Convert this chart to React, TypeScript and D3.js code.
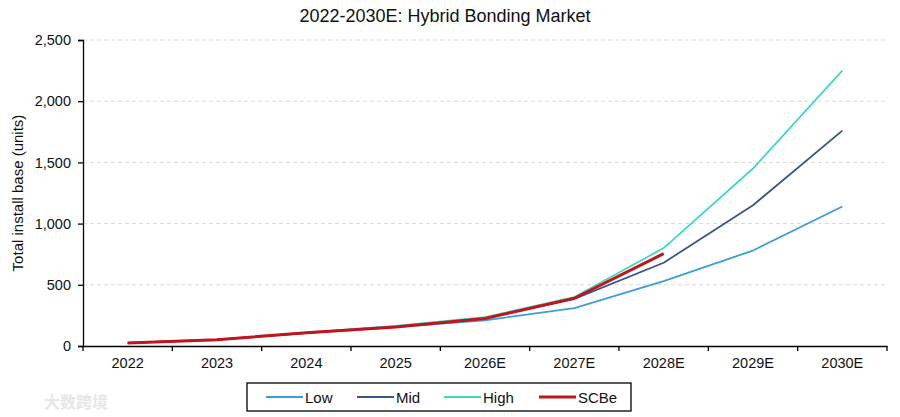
import React, { useEffect, useRef } from "react";
import { axisBottom, axisLeft, format, line, scaleBand, scaleLinear, select } from "d3";

const years = ["2022", "2023", "2024", "2025", "2026E", "2027E", "2028E", "2029E", "2030E"];
const low = [25, 50, 105, 155, 210, 310, 530, 780, 1140];
const mid = [25, 52, 108, 160, 225, 385, 680, 1150, 1760];
const high = [25, 52, 110, 165, 235, 400, 800, 1450, 2250];
const scbe = [25, 52, 108, 155, 225, 390, 755];
const yTicks = [0, 500, 1000, 1500, 2000, 2500];

const series = [
  { name: "Low", values: low, color: "#3a9fd6", width: 1.8 },
  { name: "Mid", values: mid, color: "#3a5685", width: 1.8 },
  { name: "High", values: high, color: "#3fd8c2", width: 1.8 },
  { name: "SCBe", values: scbe, color: "#c0151c", width: 3 },
];

const W = 900;
const H = 417;
const margin = { top: 40, right: 13, bottom: 71, left: 83 };

export default function App() {
  const svgRef = useRef<SVGSVGElement>(null);

  useEffect(() => {
    const svg = select(svgRef.current);
    svg.selectAll("*").remove();
    const font = "'Liberation Sans', Arial, sans-serif";

    const x = scaleBand().domain(years).range([margin.left, W - margin.right]);
    const y = scaleLinear().domain([0, 2500]).range([H - margin.bottom, margin.top]);

    // gridlines
    svg
      .append("g")
      .selectAll("line")
      .data(yTicks.slice(1))
      .enter()
      .append("line")
      .attr("x1", margin.left)
      .attr("x2", W - margin.right)
      .attr("y1", (d) => y(d))
      .attr("y2", (d) => y(d))
      .attr("stroke", "#d9d9d9")
      .attr("stroke-dasharray", "4,3")
      .attr("stroke-width", 1);

    const gx = svg
      .append("g")
      .attr("transform", `translate(0,${H - margin.bottom})`)
      .call(axisBottom(x).tickSize(0).tickPadding(12));
    gx.select(".domain").attr("stroke", "#000").attr("stroke-width", 1.3);
    gx.selectAll("text").attr("font-family", font).attr("font-size", 14.5).attr("fill", "#111");
    // tick marks between categories
    gx.selectAll("line.sep")
      .data(years.map((d) => x(d)!).concat([W - margin.right]))
      .enter()
      .append("line")
      .attr("class", "sep")
      .attr("x1", (d) => d)
      .attr("x2", (d) => d)
      .attr("y1", 0)
      .attr("y2", 5)
      .attr("stroke", "#000")
      .attr("stroke-width", 1.3);

    const gy = svg
      .append("g")
      .attr("transform", `translate(${margin.left},0)`)
      .call(axisLeft(y).tickValues(yTicks).tickSize(5).tickPadding(7).tickFormat(format(",")));
    gy.select(".domain").attr("stroke", "#000").attr("stroke-width", 1.3);
    gy.selectAll(".tick line").attr("stroke", "#000").attr("stroke-width", 1.3);
    gy.selectAll("text").attr("font-family", font).attr("font-size", 14.5).attr("fill", "#111");

    const cx = (i: number) => x(years[i])! + x.bandwidth() / 2;
    const gen = line<number>()
      .x((_, i) => cx(i))
      .y((d) => y(d));

    series.forEach((s) => {
      svg
        .append("path")
        .attr("d", gen(s.values))
        .attr("fill", "none")
        .attr("stroke", s.color)
        .attr("stroke-width", s.width)
        .attr("stroke-linejoin", "round");
    });

    // title
    svg
      .append("text")
      .attr("x", 445)
      .attr("y", 22)
      .attr("text-anchor", "middle")
      .attr("font-family", font)
      .attr("font-size", 18)
      .attr("fill", "#111")
      .text("2022-2030E: Hybrid Bonding Market");

    // y label
    svg
      .append("text")
      .attr("transform", `translate(23,${(margin.top + H - margin.bottom) / 2}) rotate(-90)`)
      .attr("text-anchor", "middle")
      .attr("font-family", font)
      .attr("font-size", 15)
      .attr("fill", "#111")
      .text("Total install base (units)");

    // legend
    const lg = svg.append("g");
    lg.append("rect")
      .attr("x", 247)
      .attr("y", 383)
      .attr("width", 384)
      .attr("height", 28)
      .attr("fill", "#fff")
      .attr("stroke", "#000")
      .attr("stroke-width", 1.3);
    const lx = [266, 357, 444, 539];
    series.forEach((s, i) => {
      lg.append("line")
        .attr("x1", lx[i])
        .attr("x2", lx[i] + 37)
        .attr("y1", 397)
        .attr("y2", 397)
        .attr("stroke", s.color)
        .attr("stroke-width", s.width);
      lg.append("text")
        .attr("x", lx[i] + 39)
        .attr("y", 402.5)
        .attr("font-family", font)
        .attr("font-size", 15)
        .attr("fill", "#111")
        .text(s.name);
    });

    // watermark
    svg
      .append("text")
      .attr("x", 44)
      .attr("y", 408)
      .attr("font-family", "'Noto Sans CJK SC', sans-serif")
      .attr("font-size", 16)
      .attr("font-weight", "bold")
      .attr("fill", "#e6e6e6")
      .text("大数跨境");
  }, []);

  return (
    <svg
      ref={svgRef}
      width={W}
      height={H}
      style={{ position: "absolute", left: 0, top: 0, background: "#fff" }}
    />
  );
}
